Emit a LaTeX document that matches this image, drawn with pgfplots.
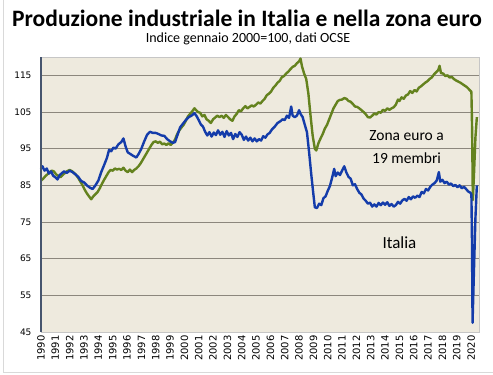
\documentclass[border=0pt]{standalone}
\usepackage{pgfplots}
\pgfplotsset{compat=1.18}
\usepackage{fontspec}
\setmainfont{Carlito}
\newfontfamily\tickfont{DejaVu Sans}
\definecolor{bg}{RGB}{238,234,222}
\definecolor{gridc}{RGB}{140,135,125}
\definecolor{axc}{RGB}{70,85,110}
\definecolor{itblue}{RGB}{20,60,170}
\definecolor{ezgreen}{RGB}{100,130,30}
\pgfplotstableread{
x y
1990.0 89.5
1990.1 90.2
1990.25 89.0
1990.4 89.6
1990.55 88.2
1990.7 88.8
1990.85 87.6
1991.0 87.2
1991.15 86.6
1991.3 87.8
1991.45 88.3
1991.6 88.8
1991.8 88.4
1992.0 89.0
1992.2 88.6
1992.4 88.0
1992.6 87.3
1992.8 86.2
1993.0 85.8
1993.2 85.0
1993.4 84.4
1993.6 84.0
1993.8 85.0
1994.0 86.3
1994.2 88.6
1994.4 90.5
1994.6 92.5
1994.75 94.7
1994.9 94.3
1995.05 95.3
1995.2 95.0
1995.4 96.2
1995.6 96.8
1995.75 97.8
1995.9 95.6
1996.05 94.0
1996.25 93.5
1996.45 93.0
1996.65 92.6
1996.8 93.5
1997.0 95.0
1997.2 97.0
1997.4 98.8
1997.6 99.6
1997.8 99.3
1998.0 99.3
1998.2 99.0
1998.4 98.6
1998.6 98.5
1998.8 97.6
1999.0 97.0
1999.2 96.6
1999.35 96.8
1999.5 98.5
1999.7 100.8
1999.9 101.8
2000.1 102.8
2000.3 103.6
2000.5 104.0
2000.7 104.7
2000.85 103.9
2001.0 102.8
2001.15 101.6
2001.3 101.0
2001.45 99.6
2001.6 98.6
2001.75 99.5
2001.9 98.3
2002.05 99.4
2002.2 98.7
2002.35 100.0
2002.5 98.8
2002.65 99.6
2002.8 98.2
2002.95 99.8
2003.1 98.6
2003.25 99.3
2003.4 97.6
2003.55 99.0
2003.7 98.2
2003.85 99.5
2004.0 98.8
2004.15 97.4
2004.3 98.3
2004.45 97.2
2004.6 98.0
2004.75 97.0
2004.9 97.8
2005.05 97.0
2005.2 97.6
2005.35 97.2
2005.5 98.4
2005.65 98.0
2005.8 98.9
2005.95 99.3
2006.1 100.2
2006.3 101.0
2006.5 102.0
2006.7 102.5
2006.85 103.0
2007.0 102.8
2007.15 104.0
2007.3 103.4
2007.45 106.5
2007.55 104.0
2007.7 103.6
2007.85 104.0
2008.0 105.5
2008.1 104.5
2008.25 103.6
2008.4 101.5
2008.55 99.5
2008.7 94.0
2008.85 88.0
2009.0 82.5
2009.1 79.0
2009.25 78.8
2009.4 80.0
2009.55 79.6
2009.7 81.5
2009.85 82.0
2010.0 83.5
2010.15 84.8
2010.3 87.0
2010.45 89.5
2010.55 87.5
2010.7 88.5
2010.85 87.8
2011.0 89.0
2011.15 90.2
2011.3 88.5
2011.45 87.3
2011.6 86.8
2011.75 85.0
2011.9 85.3
2012.05 84.0
2012.2 83.0
2012.35 82.5
2012.5 81.4
2012.65 80.8
2012.8 80.0
2012.95 80.3
2013.1 79.2
2013.25 79.8
2013.4 79.2
2013.55 80.2
2013.7 79.6
2013.85 80.3
2014.0 79.7
2014.15 80.4
2014.3 79.4
2014.45 79.9
2014.6 79.2
2014.75 79.6
2014.9 80.5
2015.05 80.0
2015.2 80.9
2015.35 81.3
2015.5 80.8
2015.65 81.8
2015.8 81.2
2015.95 82.0
2016.1 81.6
2016.25 82.2
2016.4 81.8
2016.55 83.2
2016.7 82.8
2016.85 84.0
2017.0 83.6
2017.15 84.6
2017.3 85.2
2017.45 85.6
2017.6 86.3
2017.75 88.6
2017.85 86.0
2018.0 86.5
2018.15 85.6
2018.3 86.0
2018.45 85.2
2018.6 85.5
2018.75 84.8
2018.9 85.1
2019.05 84.5
2019.2 85.0
2019.35 84.2
2019.5 84.6
2019.65 84.0
2019.8 83.3
2019.95 83.0
2020.02 82.5
2020.06 70.0
2020.1 47.5
2020.2 62.0
2020.3 76.0
2020.4 85.0
}\italia
\pgfplotstableread{
x y
1990.0 86.3
1990.15 86.8
1990.3 87.5
1990.45 88.0
1990.6 88.6
1990.75 89.0
1990.9 88.8
1991.05 88.0
1991.2 87.6
1991.35 87.2
1991.5 87.8
1991.65 88.3
1991.8 88.8
1992.0 89.2
1992.15 88.9
1992.3 88.4
1992.45 87.8
1992.6 87.0
1992.75 86.0
1992.9 85.0
1993.05 83.8
1993.2 82.8
1993.35 82.0
1993.5 81.2
1993.65 82.0
1993.8 82.6
1993.95 83.2
1994.1 84.2
1994.25 85.4
1994.4 86.5
1994.55 87.5
1994.7 88.5
1994.85 89.2
1995.0 89.0
1995.15 89.6
1995.3 89.3
1995.45 89.5
1995.6 89.2
1995.75 89.8
1995.9 89.0
1996.05 88.6
1996.2 89.3
1996.35 88.6
1996.5 89.2
1996.65 89.6
1996.8 90.2
1996.95 91.0
1997.1 92.0
1997.25 93.0
1997.4 94.0
1997.55 95.0
1997.7 96.0
1997.85 96.8
1998.0 97.0
1998.15 96.6
1998.3 96.9
1998.45 96.2
1998.6 96.4
1998.75 96.0
1998.9 96.5
1999.05 96.0
1999.2 96.6
1999.35 97.5
1999.5 99.0
1999.65 100.0
1999.8 100.8
1999.95 101.5
2000.1 102.6
2000.25 103.8
2000.4 104.5
2000.55 105.2
2000.7 106.0
2000.8 105.6
2000.95 105.0
2001.1 104.8
2001.25 103.8
2001.4 104.2
2001.55 103.0
2001.7 102.6
2001.85 102.0
2002.0 103.0
2002.15 103.5
2002.3 104.0
2002.45 103.6
2002.6 104.0
2002.75 103.4
2002.9 104.2
2003.05 103.6
2003.2 103.0
2003.35 102.6
2003.5 103.8
2003.65 104.5
2003.8 105.5
2003.95 105.2
2004.1 106.0
2004.25 106.6
2004.4 106.0
2004.55 106.4
2004.7 106.8
2004.85 106.5
2005.0 107.0
2005.15 107.6
2005.3 107.3
2005.45 108.0
2005.6 108.6
2005.75 109.6
2005.9 110.0
2006.05 110.6
2006.2 111.6
2006.35 112.2
2006.5 113.0
2006.65 113.5
2006.8 114.5
2006.95 114.8
2007.1 115.5
2007.25 116.0
2007.4 116.7
2007.55 117.3
2007.7 117.6
2007.85 118.3
2008.0 118.8
2008.1 119.6
2008.2 117.5
2008.35 115.5
2008.5 114.0
2008.65 110.0
2008.8 104.0
2008.95 98.5
2009.1 95.0
2009.2 94.5
2009.35 96.5
2009.5 97.8
2009.65 99.0
2009.8 100.5
2009.95 101.5
2010.1 103.0
2010.25 104.5
2010.4 106.0
2010.55 107.0
2010.7 108.0
2010.85 108.3
2011.0 108.4
2011.15 108.8
2011.3 108.6
2011.45 108.0
2011.6 107.8
2011.75 107.2
2011.9 106.5
2012.05 106.4
2012.2 106.0
2012.35 105.5
2012.5 105.0
2012.65 104.4
2012.8 103.6
2012.95 103.5
2013.1 104.0
2013.25 104.6
2013.4 104.3
2013.55 105.0
2013.7 104.8
2013.85 105.6
2014.0 105.3
2014.15 106.0
2014.3 105.6
2014.45 106.0
2014.6 106.3
2014.75 107.0
2014.9 108.4
2015.0 108.0
2015.15 109.0
2015.3 108.6
2015.45 109.5
2015.6 109.8
2015.75 110.7
2015.9 110.2
2016.05 111.0
2016.2 110.6
2016.35 111.6
2016.5 112.0
2016.65 112.5
2016.8 113.0
2016.95 113.4
2017.1 114.0
2017.25 114.4
2017.4 115.2
2017.55 115.8
2017.7 116.4
2017.8 117.6
2017.9 115.6
2018.05 115.5
2018.2 114.8
2018.35 115.0
2018.5 114.4
2018.65 114.6
2018.8 114.0
2018.95 113.6
2019.1 113.3
2019.25 113.0
2019.4 112.6
2019.55 112.2
2019.7 111.8
2019.85 111.2
2019.95 110.8
2020.02 110.5
2020.07 100.0
2020.12 81.0
2020.2 88.0
2020.3 98.0
2020.4 103.6
}\euro
\begin{document}
\begin{tikzpicture}[x=1pt,y=1pt]
\path[use as bounding box] (0,0) rectangle (493,375);
\draw[gray!30, line width=1pt] (3,375) -- (3,2) -- (493,2);
\node[font=\bfseries\fontsize{23.5}{25}\selectfont] at (247,357) {Produzione industriale in Italia e nella zona euro};
\node[font=\fontsize{14}{16}\selectfont] at (248,336) {Indice gennaio 2000=100, dati OCSE};
\begin{axis}[at={(41pt,43pt)}, anchor=south west, scale only axis,
  width=438pt, height=275pt,
  xmin=1990, xmax=2020.55, ymin=45, ymax=120,
  ytick={45,55,...,115}, xtick={1990,1991,...,2020},
  /pgf/number format/assume math mode=true,
  xticklabel style={rotate=90, anchor=east, font=\tickfont\fontsize{10}{11}\selectfont, /pgf/number format/1000 sep={}, /pgf/number format/precision=0},
  yticklabel style={font=\tickfont\fontsize{9}{10}\selectfont, xshift=-6pt},
  axis background/.style={fill=bg},
  ymajorgrids, grid style={line width=0.9pt, color=gridc},
  tick style={draw=none},
  axis line style={draw=gray!45, line width=0.6pt},
  clip=false,
]
\addplot[ezgreen, line width=2.4pt, line join=round] table[x=x,y=y] {\euro};
\addplot[itblue, line width=2.4pt, line join=round] table[x=x,y=y] {\italia};
\draw[axc, line width=1.2pt] (rel axis cs:0,0) -- (rel axis cs:0,1);
\node[font=\fontsize{15.5}{23}\selectfont, align=center] at (axis cs:2015.5,95.5) {Zona euro a\\19 membri};
\node[font=\fontsize{17}{18}\selectfont] at (axis cs:2015,69.5) {Italia};
\end{axis}
\end{tikzpicture}
\end{document}
